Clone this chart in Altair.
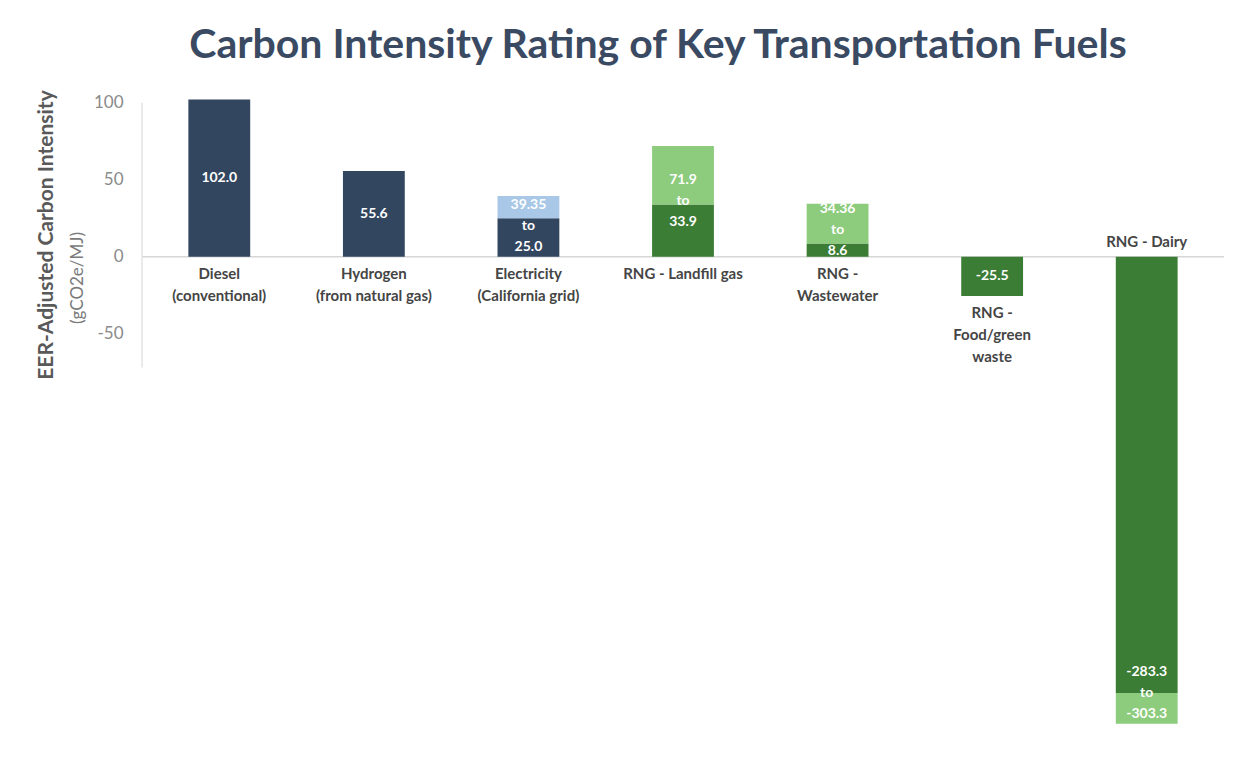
import altair as alt
import pandas as pd

# ---------------- data ----------------
categories = ["Diesel", "Hydrogen", "Electricity", "Landfill", "Wastewater", "Food", "Dairy"]
cat_labels = [
    "Diesel\n(conventional)",
    "Hydrogen\n(from natural gas)",
    "Electricity\n(California grid)",
    "RNG - Landfill gas",
    "RNG -\nWastewater",
    "RNG -\nFood/green\nwaste",
    "RNG - Dairy",
]
primary_values = [102.0, 55.6, 25.0, 33.9, 8.6, -25.5, -283.3]   # dark segment end
range_values = [None, None, 39.35, 71.9, 34.36, None, -303.3]     # other end of range (light segment)
groups = ["fossil", "fossil", "electric", "rng", "rng", "rng", "rng"]

y_ticks = [-50, 0, 50, 100]
title_text = "Carbon Intensity Rating of Key Transportation Fuels"
y_title = "EER-Adjusted Carbon Intensity"
y_subtitle = "(gCO2e/MJ)"

dark_colors = {"fossil": "#33465f", "electric": "#33465f", "rng": "#3c7d35"}
light_colors = {"electric": "#a9c7e6", "rng": "#8dcb7d"}


def fmt(v):
    return f"{v:.1f}" if round(v, 1) == v else f"{v:.2f}"


bar_rows, single_rows, range_rows, cat_rows = [], [], [], []
for c, lab, p, r, g in zip(categories, cat_labels, primary_values, range_values, groups):
    bar_rows.append({"cat": c, "y0": 0.0, "y1": p, "color": dark_colors[g]})
    if r is not None:
        bar_rows.append({"cat": c, "y0": p, "y1": r, "color": light_colors[g]})
        hi, lo = max(p, r), min(p, r)
        # label block centred on the middle of a positive bar, or on the split of a negative one
        anchor = hi / 2 if hi > 0 else p
        range_rows.append({"cat": c, "y": anchor, "label": f"{fmt(hi)}\nto\n{fmt(lo)}"})
    else:
        single_rows.append({"cat": c, "y": p / 2, "label": fmt(p)})
    lows = min(0.0, p, r if r is not None else 0.0)
    if lows >= 0:
        cat_rows.append({"cat": c, "y": 0.0, "label": lab, "pos": "below"})
    elif lows > -100:
        cat_rows.append({"cat": c, "y": lows, "label": lab, "pos": "below"})
    else:
        cat_rows.append({"cat": c, "y": 0.0, "label": lab, "pos": "above"})

bars_df = pd.DataFrame(bar_rows)
single_df = pd.DataFrame(single_rows)
range_df = pd.DataFrame(range_rows)
cats_df = pd.DataFrame(cat_rows)

FONT = "Lato"
LH = 21

x_enc = alt.X("cat:N", sort=categories, axis=None,
              scale=alt.Scale(paddingInner=0.6, paddingOuter=0.3))
y_scale = alt.Scale(domain=[-310, 105], nice=False, zero=False)

bars = alt.Chart(bars_df).mark_bar().encode(
    x=x_enc,
    y=alt.Y("y0:Q", scale=y_scale,
            axis=alt.Axis(values=y_ticks, grid=False, domain=False, ticks=False,
                          labelFontSize=17, labelColor="#8a8a8a", labelPadding=19,
                          labelFont=FONT, title=None,
                          labelExpr="'' + datum.value")),
    y2="y1:Q",
    color=alt.Color("color:N", scale=None),
)

zero_line = alt.Chart(pd.DataFrame({"z": [0]})).mark_rule(color="#d6d6d6", strokeWidth=1.5).encode(
    y=alt.Y("z:Q", scale=y_scale)
)
axis_line = alt.Chart(pd.DataFrame({"a": [100], "b": [-72]})).mark_rule(color="#e3e3e3", strokeWidth=1.5).encode(
    x=alt.value(0), y=alt.Y("a:Q", scale=y_scale), y2="b:Q"
)

single_vals = alt.Chart(single_df).mark_text(
    font=FONT, fontSize=14, fontWeight="bold", color="white",
    baseline="middle", align="center"
).encode(x=x_enc, y=alt.Y("y:Q", scale=y_scale), text="label:N")

range_vals = alt.Chart(range_df).mark_text(
    font=FONT, fontSize=14, fontWeight="bold", color="white", lineBreak="\n",
    lineHeight=LH, baseline="middle", align="center", dy=-LH
).encode(x=x_enc, y=alt.Y("y:Q", scale=y_scale), text="label:N")

cat_below = alt.Chart(cats_df[cats_df["pos"] == "below"]).mark_text(
    font=FONT, fontSize=15, fontWeight="bold", color="#454545", lineBreak="\n",
    lineHeight=22, baseline="top", align="center", dy=10
).encode(x=x_enc, y=alt.Y("y:Q", scale=y_scale), text="label:N")

cat_above = alt.Chart(cats_df[cats_df["pos"] == "above"]).mark_text(
    font=FONT, fontSize=15, fontWeight="bold", color="#454545", lineBreak="\n",
    lineHeight=22, baseline="bottom", align="center", dy=-7
).encode(x=x_enc, y=alt.Y("y:Q", scale=y_scale), text="label:N")

title = alt.Chart(pd.DataFrame({"t": [title_text]})).mark_text(
    font=FONT, fontSize=41, fontWeight="bold", color="#3a4a62", align="center", baseline="alphabetic"
).encode(x=alt.value(516), y=alt.value(-37), text="t:N")

ytitle = alt.Chart(pd.DataFrame({"t": [y_title]})).mark_text(
    font=FONT, fontSize=21, fontWeight="bold", color="#595959", align="center", baseline="middle", angle=270
).encode(x=alt.value(-95), y=alt.value(140), text="t:N")

ysub = alt.Chart(pd.DataFrame({"t": [y_subtitle]})).mark_text(
    font=FONT, fontSize=17, color="#7a7a7a", align="center", baseline="middle", angle=270
).encode(x=alt.value(-64), y=alt.value(183), text="t:N")

chart = alt.layer(
    zero_line, axis_line, bars, single_vals, range_vals, cat_below, cat_above, title, ytitle, ysub
).properties(
    width=1082, height=639,
    autosize=alt.AutoSizeParams(type="none"),
    padding={"left": 142, "top": 95, "right": 24, "bottom": 27},
    background="white",
).configure_view(stroke=None)

chart.save("out.html", embed_options={"renderer": "svg", "actions": False})
